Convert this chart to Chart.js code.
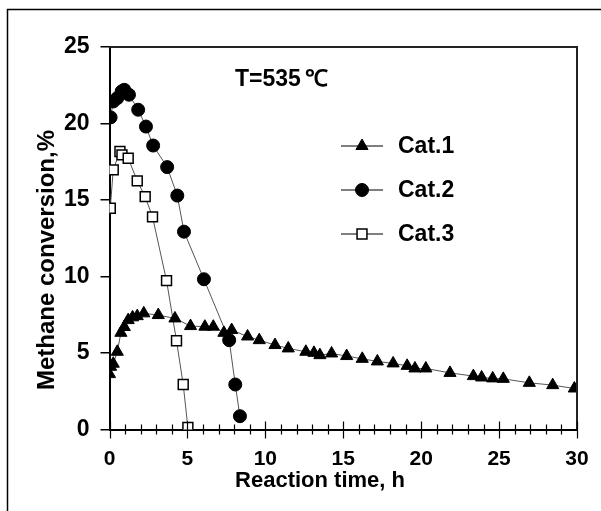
<!DOCTYPE html>
<html>
<head>
<meta charset="utf-8">
<script src="https://cdn.jsdelivr.net/npm/chart.js@4/dist/chart.umd.min.js"></script>
<style>
  html, body { margin: 0; padding: 0; background: #fff; }
  #wrap { width: 601px; height: 511px; }
</style>
</head>
<body>
<div id="wrap"><canvas id="canvas" width="601" height="511"></canvas></div>
<script>
// values
var cat1Time = [0, 0.07, 0.24, 0.5, 0.73, 0.95, 1.2, 1.48, 1.78, 2.2, 3.13, 4.2, 5.2, 6.12, 6.66, 7.34, 7.84, 8.86, 9.61, 10.62, 11.47, 12.6, 13.12, 13.5, 14.25, 15.22, 16.22, 17.19, 18.2, 19.1, 19.6, 20.3, 21.85, 23.35, 23.88, 24.59, 25.27, 26.94, 28.44, 29.83];
var cat1Conv = [3.62, 4.1, 4.3, 5.08, 6.32, 6.7, 7.15, 7.33, 7.41, 7.59, 7.48, 7.26, 6.76, 6.72, 6.72, 6.32, 6.5, 6.08, 5.84, 5.52, 5.3, 5.08, 5.01, 4.86, 4.97, 4.8, 4.62, 4.45, 4.32, 4.16, 3.99, 3.99, 3.7, 3.49, 3.4, 3.34, 3.31, 3.05, 2.9, 2.68];

var cat2Time = [0.07, 0.24, 0.5, 0.78, 0.95, 1.25, 1.84, 2.34, 2.8, 3.7, 4.35, 4.78, 6.06, 7.68, 8.07, 8.37];
var cat2Conv = [20.4, 21.44, 21.66, 22.1, 22.2, 21.88, 20.9, 19.8, 18.56, 17.15, 15.29, 12.93, 9.82, 5.84, 2.94, 0.87];

var cat3Time = [0.05, 0.24, 0.67, 0.8, 1.2, 1.78, 2.29, 2.76, 3.66, 4.3, 4.73, 5.03];
var cat3Conv = [14.46, 16.97, 18.17, 17.95, 17.73, 16.25, 15.22, 13.9, 9.73, 5.8, 2.94, 0.13];

var seriesNames = ['Cat.1', 'Cat.2', 'Cat.3'];
var xTicks = [0, 5, 10, 15, 20, 25, 30];
var yTicks = [0, 5, 10, 15, 20, 25];

var FONT = '"Liberation Sans", Arial, sans-serif';

function pts(xs, ys) {
  var out = [];
  for (var i = 0; i < xs.length; i++) out.push({x: xs[i], y: ys[i]});
  return out;
}

// frame, box, minor ticks, titles and legend
var decor = {
  id: 'decor',
  afterDraw: function(chart) {
    var ctx = chart.ctx;
    var a = chart.chartArea;
    var xs = chart.scales.x;
    ctx.save();

    // outer frame (only left and top edges fall inside the picture)
    ctx.strokeStyle = '#000';
    ctx.lineWidth = 1.5;
    ctx.beginPath();
    ctx.moveTo(7.5, 511);
    ctx.lineTo(7.5, 9.5);
    ctx.lineTo(601, 9.5);
    ctx.stroke();

    // top and right edges of the plot box
    ctx.strokeStyle = '#222';
    ctx.lineWidth = 2;
    ctx.beginPath();
    ctx.moveTo(a.left, a.top);
    ctx.lineTo(a.right, a.top);
    ctx.lineTo(a.right, a.bottom);
    ctx.stroke();

    // x ticks crossing the axis, every hour
    ctx.strokeStyle = '#000';
    ctx.lineWidth = 1.2;
    ctx.beginPath();
    for (var v = 0; v <= 30; v++) {
      var px = Math.round(xs.getPixelForValue(v)) + 0.5;
      var up = v % 5 === 0 ? 8 : 5;
      var dn = v % 5 === 0 ? 9 : 5;
      ctx.moveTo(px, a.bottom - up);
      ctx.lineTo(px, a.bottom + dn);
    }
    ctx.stroke();

    ctx.fillStyle = '#000';
    ctx.textBaseline = 'middle';

    // x title (sits left of centre in the original)
    ctx.font = 'bold 22px ' + FONT;
    ctx.textAlign = 'center';
    ctx.fillText('Reaction time, h', 320, 481);

    // y title
    ctx.save();
    ctx.translate(47, 260);
    ctx.rotate(-Math.PI / 2);
    ctx.font = 'bold 24px ' + FONT;
    ctx.fillText('Methane conversion,%', 0, 0);
    ctx.restore();

    // temperature note
    ctx.font = 'bold 23px ' + FONT;
    ctx.textAlign = 'left';
    ctx.fillText('T=535\u2009\u2103', 235, 80);

    // legend
    var rows = [146, 190, 234];
    chart.data.datasets.forEach(function(ds, i) {
      var y = rows[i];
      ctx.strokeStyle = '#000';
      ctx.lineWidth = 1.2;
      ctx.beginPath();
      ctx.moveTo(341, y);
      ctx.lineTo(383, y);
      ctx.stroke();
      drawMark(ctx, ds.pointStyle, 362, y, ds.pointRadius, ds.pointBackgroundColor, ds.pointBorderWidth);
      ctx.fillStyle = '#000';
      ctx.font = 'bold 23px ' + FONT;
      ctx.textAlign = 'left';
      ctx.fillText(ds.label, 398, y + 1);
    });
    ctx.restore();
  }
};

function drawMark(ctx, style, x, y, r, fill, bw) {
  ctx.beginPath();
  if (style === 'triangle') {
    ctx.moveTo(x, y - r);
    ctx.lineTo(x + 0.866 * r, y + r / 2);
    ctx.lineTo(x - 0.866 * r, y + r / 2);
    ctx.closePath();
  } else if (style === 'rect') {
    var s = Math.SQRT1_2 * r;
    ctx.rect(x - s, y - s, 2 * s, 2 * s);
  } else {
    ctx.arc(x, y, r, 0, Math.PI * 2);
  }
  ctx.fillStyle = fill;
  ctx.fill();
  ctx.strokeStyle = '#000';
  ctx.lineWidth = bw;
  ctx.stroke();
}

var chart = new Chart(document.getElementById('canvas').getContext('2d'), {
  type: 'scatter',
  data: {
    datasets: [{
      label: seriesNames[0],
      data: pts(cat1Time, cat1Conv),
      showLine: true,
      borderColor: '#555',
      borderWidth: 1,
      pointStyle: 'triangle',
      pointRadius: 7,
      pointBackgroundColor: '#000',
      pointBorderColor: '#000',
      pointBorderWidth: 1
    }, {
      label: seriesNames[1],
      data: pts(cat2Time, cat2Conv),
      showLine: true,
      borderColor: '#555',
      borderWidth: 1,
      pointStyle: 'circle',
      pointRadius: 6.5,
      pointBackgroundColor: '#000',
      pointBorderColor: '#000',
      pointBorderWidth: 1
    }, {
      label: seriesNames[2],
      data: pts(cat3Time, cat3Conv),
      showLine: true,
      borderColor: '#555',
      borderWidth: 1,
      pointStyle: 'rect',
      pointRadius: 7,
      pointBackgroundColor: '#fff',
      pointBorderColor: '#000',
      pointBorderWidth: 1.5
    }]
  },
  options: {
    responsive: false,
    animation: false,
    layout: { padding: { top: 47, right: 24, left: 0, bottom: 0 } },
    plugins: {
      legend: { display: false },
      tooltip: { enabled: false }
    },
    scales: {
      x: {
        type: 'linear',
        min: 0,
        max: 30,
        afterFit: function(s) {
          s.height = 81.5;
          s.paddingLeft = 0;
          s.paddingRight = 0;
        },
        afterBuildTicks: function(s) { s.ticks = xTicks.map(function(v) { return {value: v}; }); },
        ticks: {
          color: '#000',
          padding: 17,
          font: { family: FONT, size: 21, weight: 'bold' }
        },
        grid: { display: false, drawTicks: false },
        border: { display: true, color: '#000', width: 2 }
      },
      y: {
        min: 0,
        max: 25,
        afterFit: function(s) {
          s.width = 109.5;
          s.paddingTop = 0;
          s.paddingBottom = 0;
        },
        afterBuildTicks: function(s) { s.ticks = yTicks.map(function(v) { return {value: v}; }); },
        ticks: {
          color: '#000',
          padding: 11,
          font: { family: FONT, size: 23, weight: 'bold' }
        },
        grid: { drawOnChartArea: false, drawTicks: true, tickLength: 9, color: '#000', lineWidth: 1.5 },
        border: { display: true, color: '#000', width: 2 }
      }
    }
  },
  plugins: [decor]
});
</script>
</body>
</html>
